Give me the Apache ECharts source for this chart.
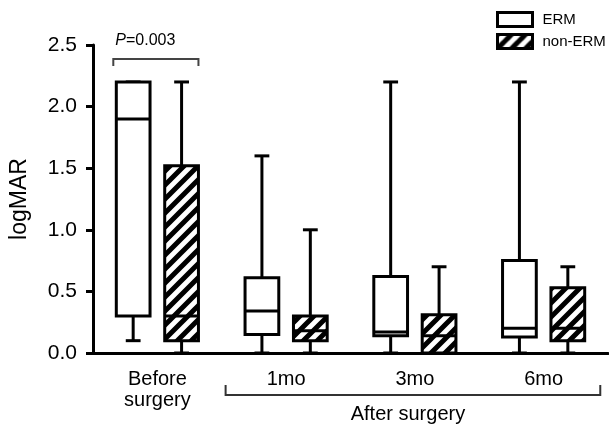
<!DOCTYPE html>
<html><head><meta charset="utf-8">
<script src="https://cdn.jsdelivr.net/npm/echarts@6/dist/echarts.min.js"></script>
<style>html,body{margin:0;padding:0;background:#fff}#c{width:609px;height:427px}</style>
</head><body><div id="c"></div><script>
const categories = ['Before\nsurgery', '1mo', '3mo', '6mo'];
const seriesNames = ['ERM', 'non-ERM'];
// [min, Q1, median, Q3, max]
const ermValues = [
  [0.1, 0.3, 1.9, 2.2, 2.2],
  [0.0, 0.15, 0.34, 0.61, 1.6],
  [0.0, 0.14, 0.17, 0.62, 2.2],
  [0.0, 0.13, 0.2, 0.75, 2.2]
];
const nonErmValues = [
  [0.0, 0.1, 0.3, 1.52, 2.2],
  [0.0, 0.1, 0.18, 0.3, 1.0],
  [0.0, 0.0, 0.14, 0.31, 0.7],
  [0.0, 0.1, 0.2, 0.53, 0.7]
];
const yMin = 0, yMax = 2.5, yStep = 0.5;
const pText = '0.003';
const groupLabel = 'After surgery';

const FONT = '"Liberation Sans", Arial, Helvetica, sans-serif';

function makeHatch() {
  const s = 14, c = document.createElement('canvas');
  c.width = s; c.height = s;
  const g = c.getContext('2d');
  g.fillStyle = '#fff'; g.fillRect(0, 0, s, s);
  g.strokeStyle = '#000'; g.lineWidth = 5;
  g.beginPath();
  g.moveTo(-s / 2, s / 2); g.lineTo(s / 2, -s / 2);
  g.moveTo(-1, s + 1); g.lineTo(s + 1, -1);
  g.moveTo(s / 2, s * 1.5); g.lineTo(s * 1.5, s / 2);
  g.stroke();
  return c;
}
const hatch = { image: makeHatch(), repeat: 'repeat' };

function makeRender(offsetFrac, fill) {
  return function (params, api) {
    const ci = api.value(0);
    const vals = [1, 2, 3, 4, 5].map(i => api.value(i));
    const band = api.size([1, 0])[0];
    const cx = api.coord([ci, 0])[0] + offsetFrac * band;
    const w = band * 0.262, cw = band * 0.115;
    const y = vals.map(v => api.coord([ci, v])[1]);
    const st = { stroke: '#000', lineWidth: 3 };
    return {
      type: 'group',
      children: [
        { type: 'line', shape: { x1: cx, y1: y[4], x2: cx, y2: y[3] }, style: st },
        { type: 'line', shape: { x1: cx, y1: y[1], x2: cx, y2: y[0] }, style: st },
        { type: 'line', shape: { x1: cx - cw / 2, y1: y[4], x2: cx + cw / 2, y2: y[4] }, style: st },
        { type: 'line', shape: { x1: cx - cw / 2, y1: y[0], x2: cx + cw / 2, y2: y[0] }, style: st },
        { type: 'rect', shape: { x: cx - w / 2, y: y[3], width: w, height: y[1] - y[3] },
          style: { fill: fill, stroke: '#000', lineWidth: 3 } },
        { type: 'line', shape: { x1: cx - w / 2, y1: y[2], x2: cx + w / 2, y2: y[2] }, style: st }
      ]
    };
  };
}

const chart = echarts.init(document.getElementById('c'), null, { renderer: 'canvas' });
const option = {
  animation: false,
  backgroundColor: '#fff',
  textStyle: { fontFamily: FONT },
  grid: { left: 86, right: 1, top: 45, bottom: 74 },
  legend: {
    orient: 'vertical', left: 491, top: 6, itemWidth: 35, itemHeight: 14, itemGap: 5,
    icon: 'rect', selectedMode: false,
    textStyle: { fontSize: 15, color: '#000', fontFamily: FONT, padding: [0, 0, 0, 5] },
    data: [
      { name: seriesNames[0], itemStyle: { color: '#fff', borderColor: '#000', borderWidth: 3 } },
      { name: seriesNames[1], itemStyle: { color: hatch, borderColor: '#000', borderWidth: 3 } }
    ]
  },
  xAxis: {
    type: 'category', data: categories, boundaryGap: true,
    axisLine: { lineStyle: { color: '#000', width: 3 } },
    axisTick: { alignWithLabel: true, length: 8, lineStyle: { color: '#000', width: 3 } },
    axisLabel: { fontSize: 20, color: '#000', fontFamily: FONT, margin: 16, lineHeight: 21 },
    splitLine: { show: false }
  },
  yAxis: {
    type: 'value', min: yMin, max: yMax, interval: yStep,
    name: 'logMAR', nameLocation: 'middle', nameRotate: 90, nameGap: 62,
    nameTextStyle: { fontSize: 23, color: '#000', fontFamily: FONT },
    axisLine: { show: true, lineStyle: { color: '#000', width: 3 } },
    axisTick: { show: true, length: 7, lineStyle: { color: '#000', width: 3 } },
    axisLabel: { fontSize: 21, color: '#000', fontFamily: FONT, margin: 16,
      formatter: v => v.toFixed(1) },
    splitLine: { show: false }
  },
  series: [
    {
      name: seriesNames[0], type: 'custom',
      itemStyle: { color: '#fff', borderColor: '#000', borderWidth: 3 },
      renderItem: makeRender(-0.188, '#fff'),
      encode: { x: 0, y: [1, 2, 3, 4, 5] },
      data: ermValues.map((v, i) => [i].concat(v))
    },
    {
      name: seriesNames[1], type: 'custom',
      itemStyle: { color: hatch, borderColor: '#000', borderWidth: 3 },
      renderItem: makeRender(0.188, hatch),
      encode: { x: 0, y: [1, 2, 3, 4, 5] },
      data: nonErmValues.map((v, i) => [i].concat(v))
    }
  ]
};
chart.setOption(option);

// annotations positioned from the axes
const band = chart.convertToPixel({ xAxisIndex: 0 }, 1) - chart.convertToPixel({ xAxisIndex: 0 }, 0);
const c0 = chart.convertToPixel({ xAxisIndex: 0 }, 0);
const c3 = chart.convertToPixel({ xAxisIndex: 0 }, 3);
const yTopBr = 59;
const pL = c0 - 0.188 * band - 0.131 * band - 3, pR = c0 + 0.188 * band + 0.131 * band;
const aL = c0 + band * 0.53, aR = c3 + band * 0.44;
chart.setOption({
  graphic: [
    { type: 'polyline', shape: { points: [[pL, 66], [pL, yTopBr], [pR, yTopBr], [pR, 66]] },
      style: { stroke: '#444', lineWidth: 2, fill: null } },
    { type: 'text', x: pL + 2, y: 41,
      style: { text: '{i|P}=' + pText, verticalAlign: 'middle', fill: '#000', font: '16px ' + FONT,
        rich: { i: { fontStyle: 'italic', fontSize: 16, fontFamily: FONT, fill: '#000' } } } },
    { type: 'polyline', shape: { points: [[aL, 385], [aL, 395], [aR, 395], [aR, 385]] },
      style: { stroke: '#333', lineWidth: 2, fill: null } },
    { type: 'text', x: (aL + aR) / 2 - 5, y: 414,
      style: { text: groupLabel, align: 'center', verticalAlign: 'middle', fill: '#000', font: '20px ' + FONT } }
  ]
});
</script></body></html>
